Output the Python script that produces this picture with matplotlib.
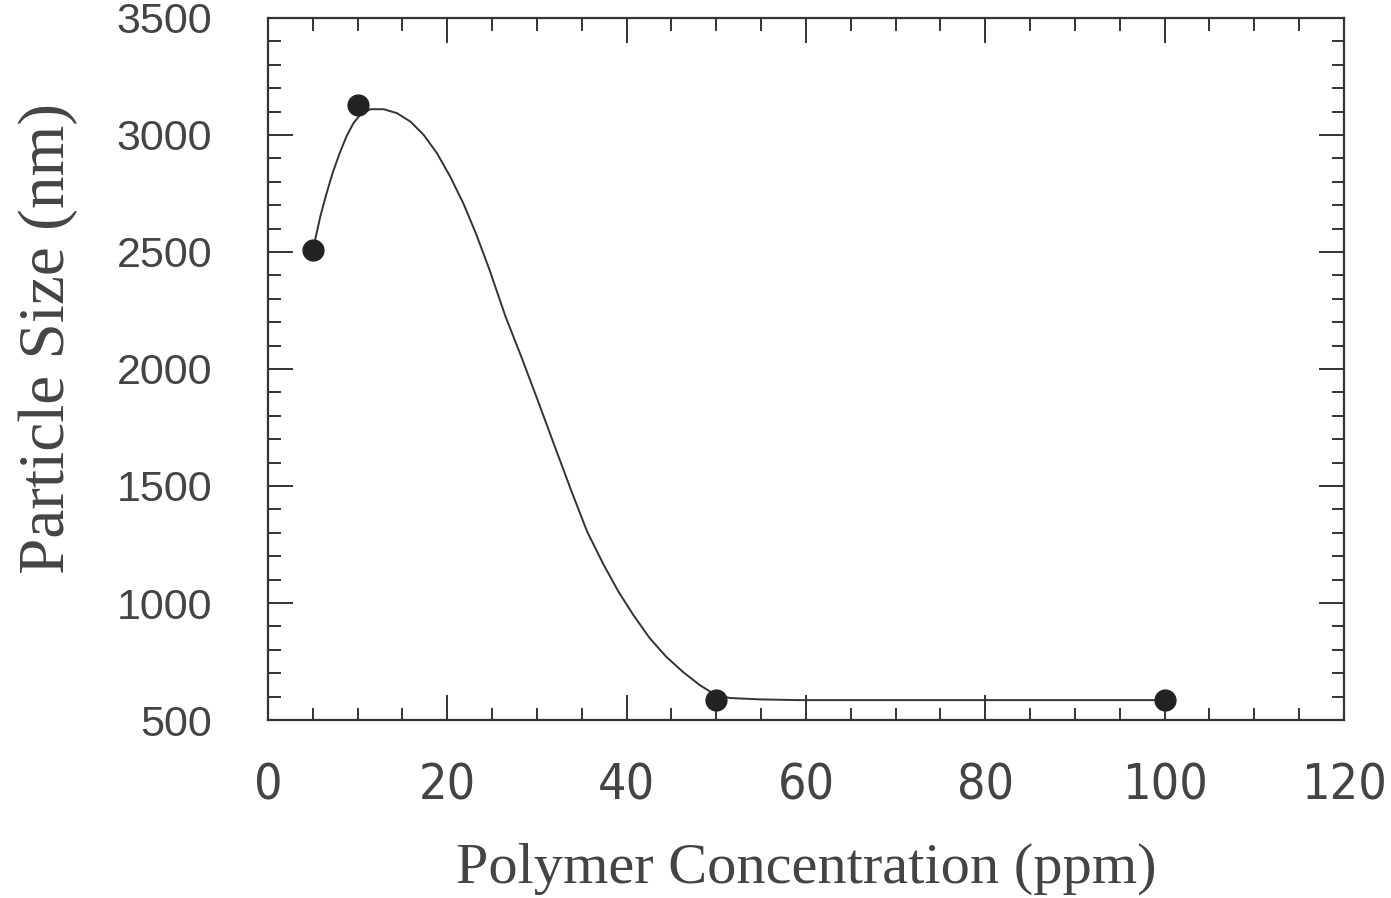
import matplotlib.pyplot as plt
from matplotlib.ticker import MultipleLocator
from matplotlib import font_manager

# measured points
conc = [5, 10, 50, 100]
size_nm = [2510, 3130, 585, 585]

# smooth guide curve
curve_x = [5.0, 5.26, 5.84, 6.44, 7.21, 8.00, 8.75, 9.53, 10.29, 11.43, 12.92,
           14.40, 15.90, 17.38, 18.85, 20.33, 21.79, 23.24, 24.70, 26.49, 28.33,
           30.15, 31.96, 33.78, 35.60, 37.42, 39.07, 40.73, 42.57, 44.43, 46.27,
           48.13, 49.62, 51.5, 55.0, 59.3, 80.0, 100.0]
curve_y = [2510, 2551, 2651, 2737, 2837, 2922, 2993, 3050, 3086, 3110, 3110,
           3093, 3057, 3000, 2922, 2822, 2708, 2575, 2425, 2225, 2045,
           1860, 1672, 1485, 1305, 1165, 1050, 950, 850, 770, 706,
           650, 614, 594, 588, 585, 585, 585]

# x tick labels in the original are a narrow face; use one if installed
tick_font = 'Liberation Sans'
for f in font_manager.fontManager.ttflist:
    if f.stretch in ('condensed', 'semi-condensed', 'extra-condensed') and 'Sans' in f.name:
        tick_font = f.name
        break

fig = plt.figure(figsize=(13.91, 8.98), dpi=100)
ax = fig.add_axes([0.1926, 0.1982, 0.7736, 0.7818])

ax.plot(curve_x, curve_y, color='#333333', lw=1.4, zorder=2)
ax.plot(conc, size_nm, 'o', color='#222222', ms=15, zorder=3)

ax.set_xlim(0, 120)
ax.set_ylim(500, 3500)
ax.xaxis.set_major_locator(MultipleLocator(20))
ax.xaxis.set_minor_locator(MultipleLocator(5))
ax.yaxis.set_major_locator(MultipleLocator(500))
ax.yaxis.set_minor_locator(MultipleLocator(100))

ax.tick_params(which='both', direction='in', top=True, right=True,
               width=1.4, color='#333333')
ax.tick_params(which='major', length=18)
ax.tick_params(which='minor', length=9)
ax.tick_params(axis='x', which='major', pad=30)
ax.tick_params(axis='y', which='major', pad=40)
for s in ax.spines.values():
    s.set_linewidth(1.6)
    s.set_color('#333333')

for lab in ax.get_xticklabels():
    lab.set_fontfamily(tick_font)
    lab.set_fontstretch('condensed')
    lab.set_fontsize(36 if tick_font != 'Liberation Sans' else 30)
    lab.set_color('#444444')
for lab in ax.get_yticklabels():
    lab.set_fontfamily('Liberation Sans')
    lab.set_fontsize(31)
    lab.set_color('#444444')

ax.set_xlabel('Polymer Concentration (ppm)', family='Liberation Serif',
              fontsize=42, color='#444444', labelpad=24)
ax.set_ylabel('Particle Size (nm)', family='Liberation Serif',
              fontsize=47, color='#444444', labelpad=28)
ax.yaxis.label.set_y(0.543)

fig.savefig('out.png', dpi=100)
